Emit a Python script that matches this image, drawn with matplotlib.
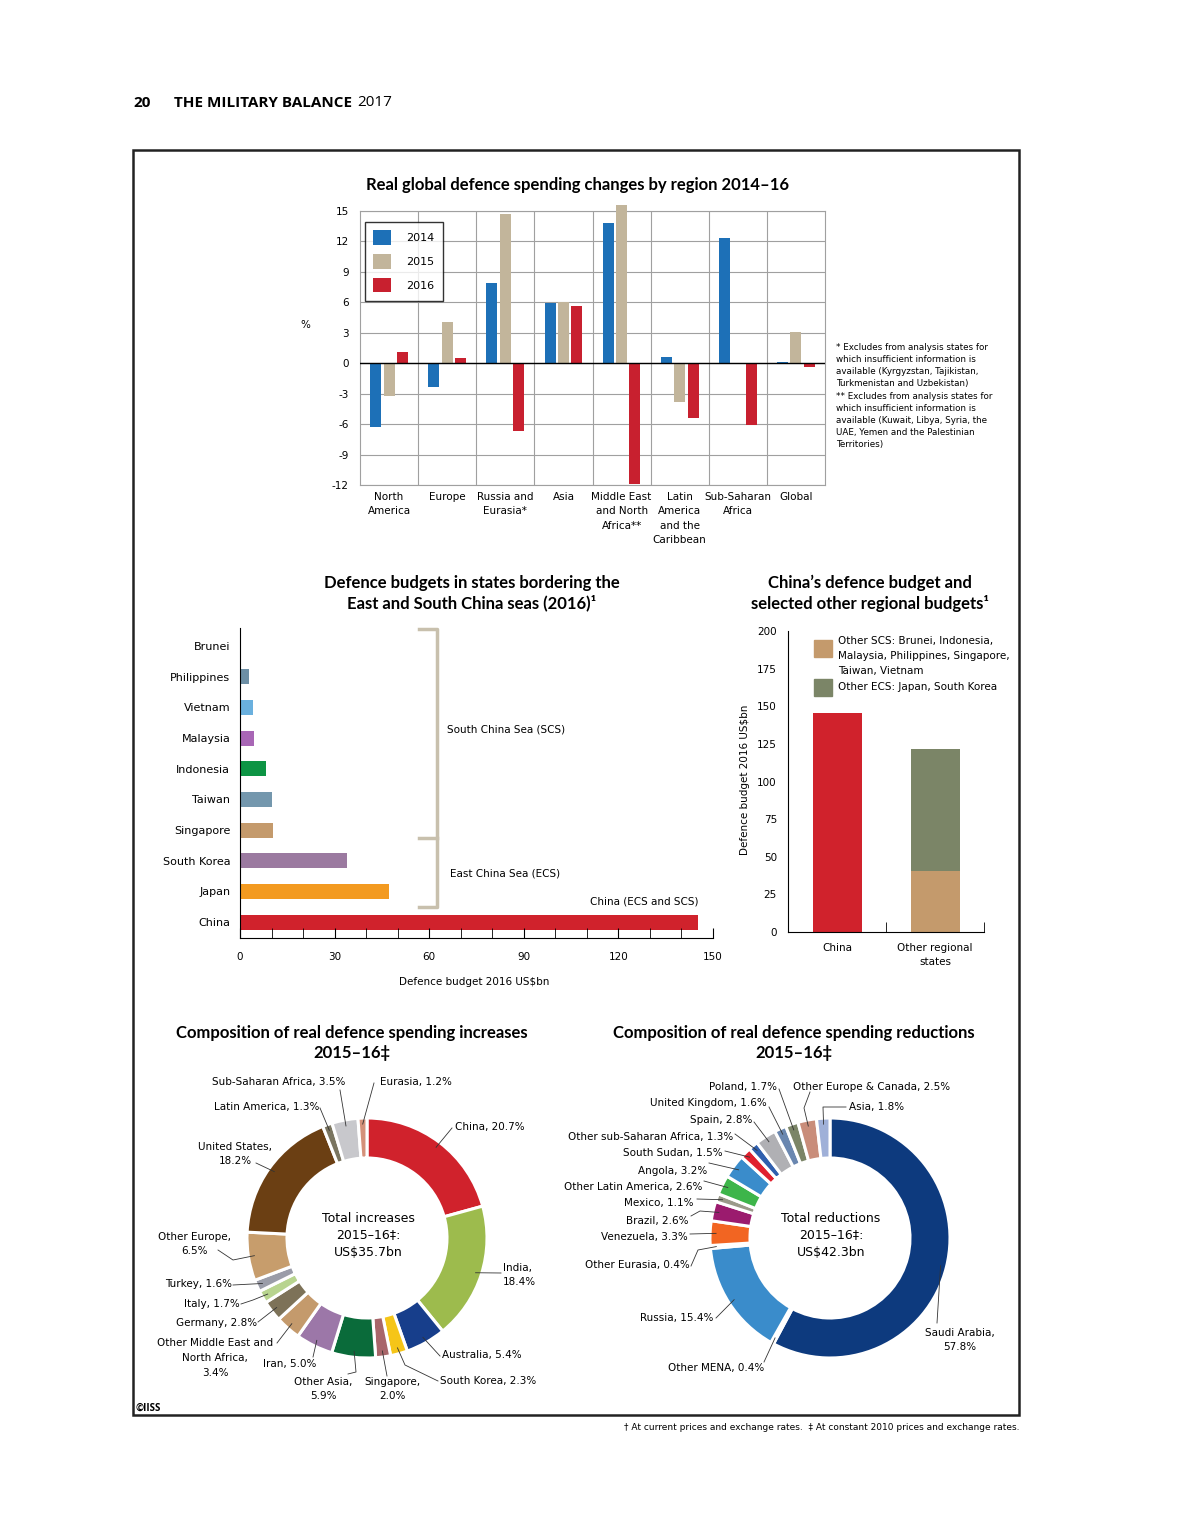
import numpy as np
import matplotlib
matplotlib.use('Agg')
import matplotlib.pyplot as plt
from matplotlib.patches import Rectangle
from matplotlib.lines import Line2D
from matplotlib import font_manager

W, H = 1204, 1540

# --- real global defence spending changes (%)
regions = ['North\nAmerica', 'Europe', 'Russia and\nEurasia*', 'Asia',
           'Middle East\nand North\nAfrica**', 'Latin\nAmerica\nand the\nCaribbean',
           'Sub-Saharan\nAfrica', 'Global']
chg_2014 = [-6.3, -2.3, 7.9, 5.9, 13.8, 0.6, 12.3, 0.1]
chg_2015 = [-3.2, 4.1, 14.7, 6.0, 15.6, -3.8, -0.1, 3.1]
chg_2016 = [1.1, 0.5, -6.7, 5.6, -11.9, -5.4, -6.1, -0.4]

# --- defence budgets 2016 US$bn
countries = ['China', 'Japan', 'South Korea', 'Singapore', 'Taiwan',
             'Indonesia', 'Malaysia', 'Vietnam', 'Philippines', 'Brunei']
budgets = [145.3, 47.4, 33.8, 10.4, 10.1, 8.1, 4.4, 4.0, 2.8, 0.4]
budget_colors = ['#d0222c', '#f39a20', '#9b7aa0', '#c49a6c', '#7497ad',
                 '#0d9444', '#a866b5', '#6ab0de', '#6d8fa5', '#c8c0ad']

# --- composition of increases 2015-16 (%)
inc_labels = ['China, 20.7%', 'India,\n18.4%', 'Australia, 5.4%', 'South Korea, 2.3%',
              'Singapore,\n2.0%', 'Other Asia,\n5.9%', 'Iran, 5.0%',
              'Other Middle East and\nNorth Africa,\n3.4%', 'Germany, 2.8%',
              'Italy, 1.7%', 'Turkey, 1.6%', 'Other Europe,\n6.5%',
              'United States,\n18.2%', 'Latin America, 1.3%',
              'Sub-Saharan Africa, 3.5%', 'Eurasia, 1.2%']
inc_values = [20.7, 18.4, 5.4, 2.3, 2.0, 5.9, 5.0, 3.4, 2.8, 1.7, 1.6, 6.5, 18.2, 1.3, 3.5, 1.2]
inc_colors = ['#d0222c', '#9dbb4d', '#173e8b', '#f5c518', '#a8666a', '#0a6b3a',
              '#9c77a8', '#c49a6c', '#7d7258', '#b8d48f', '#9a9ca8', '#c79d6c',
              '#6b3f13', '#7a7560', '#c8c8cc', '#d4917a']

# --- composition of reductions 2015-16 (%)
red_labels = ['Saudi Arabia,\n57.8%', 'Other MENA, 0.4%', 'Russia, 15.4%',
              'Other Eurasia, 0.4%', 'Venezuela, 3.3%', 'Brazil, 2.6%', 'Mexico, 1.1%',
              'Other Latin America, 2.6%', 'Angola, 3.2%', 'South Sudan, 1.5%',
              'Other sub-Saharan Africa, 1.3%', 'Spain, 2.8%', 'United Kingdom, 1.6%',
              'Poland, 1.7%', 'Other Europe & Canada, 2.5%', 'Asia, 1.8%']
red_values = [57.8, 0.4, 15.4, 0.4, 3.3, 2.6, 1.1, 2.6, 3.2, 1.5, 1.3, 2.8, 1.6, 1.7, 2.5, 1.8]
red_colors = ['#0d3a7e', '#8a5a2b', '#3a8ccb', '#f5c518', '#f26522', '#9b1b6e',
              '#9a9a8a', '#3db54a', '#3a8ccb', '#e0202e', '#2f5fae', '#b0b0b4',
              '#6a87b0', '#7b8567', '#c98d7a', '#9fb0d8']

avail = {f.name for f in font_manager.fontManager.ttflist}
NARROW = 'Liberation Sans Narrow' if 'Liberation Sans Narrow' in avail else 'DejaVu Sans'
BOLD = 'Lato'
plt.rcParams['font.family'] = NARROW
plt.rcParams['axes.unicode_minus'] = False
FS = 9 if NARROW != 'DejaVu Sans' else 7.5

fig = plt.figure(figsize=(W / 100, H / 100), dpi=100)


def box(x0, y0, x1, y1):
    return [x0 / W, 1 - y1 / H, (x1 - x0) / W, (y1 - y0) / H]


def ftext(x, y, s, **kw):
    return fig.text(x / W, 1 - y / H, s, **kw)


def lines_text(x, y, s, step=14.5, **kw):
    # one text per line, centred on y
    rows = s.split('\n')
    y0 = y - step * (len(rows) - 1) / 2
    for k, row in enumerate(rows):
        ftext(x, y0 + k * step, row, va='center', **kw)


def pline(xs, ys, **kw):
    fig.add_artist(Line2D([x / W for x in xs], [1 - y / H for y in ys], **kw))


def title(x, y, s):
    ftext(x, y, s, ha='center', va='center', family=BOLD, fontweight='bold',
          fontsize=12, linespacing=1.3)


# header / frame / footer
ftext(133, 103, '20', family='Open Sans', fontweight='bold', fontsize=11, va='center')
ftext(174, 103, 'THE MILITARY BALANCE', family='Open Sans', fontweight='bold', fontsize=11, va='center')
ftext(357, 103, '2017', family='Open Sans', fontsize=11, va='center')
fig.add_artist(Rectangle((133 / W, 1 - 1415 / H), (1019 - 133) / W, (1415 - 150) / H,
                         transform=fig.transFigure, fill=False, lw=1.8, ec='#222222'))
ftext(135, 1408, '©IISS', family='Open Sans', fontweight='bold', fontsize=7, va='center')
ftext(1019, 1428, '† At current prices and exchange rates.  ‡ At constant 2010 prices and exchange rates.',
      ha='right', va='center', fontsize=6.5)

# ---------------- chart 1
title(578, 185, 'Real global defence spending changes by region 2014–16')
ax1 = fig.add_axes(box(360, 211, 825, 485))
x = np.arange(len(regions))
for off, vals, col, lab in [(-0.23, chg_2014, '#1d70b7', '2014'),
                            (0.0, chg_2015, '#c2b59b', '2015'),
                            (0.23, chg_2016, '#c8202f', '2016')]:
    ax1.bar(x + off, vals, 0.19, color=col, label=lab, clip_on=False, zorder=3)
ax1.set_xlim(-0.5, 7.5)
ax1.set_ylim(-12, 15)
ax1.set_yticks(range(-12, 16, 3))
ax1.set_xticks(x)
ax1.set_xticklabels(regions, fontsize=FS, linespacing=1.55)
ax1.set_xticks(np.arange(0.5, 7.5, 1), minor=True)
ax1.tick_params(which='both', length=0)
ax1.tick_params(axis='y', labelsize=FS, pad=8)
ax1.tick_params(axis='x', pad=5)
ax1.set_axisbelow(True)
ax1.grid(True, which='minor', axis='x', color='#a0a0a0', lw=0.8)
ax1.grid(True, which='major', axis='y', color='#a0a0a0', lw=0.8)
ax1.axhline(0, color='black', lw=1, zorder=4)
for s in ax1.spines.values():
    s.set_color('#a0a0a0')
    s.set_linewidth(0.8)
leg = ax1.legend(loc='upper left', bbox_to_anchor=(0.011, 0.96), frameon=True, fancybox=False,
                 edgecolor='black', fontsize=FS + 0.5, borderpad=0.75, labelspacing=0.85,
                 handlelength=1.62, handleheight=1.62, handletextpad=1.35, borderaxespad=0)
leg.get_frame().set_linewidth(1)
ftext(305, 325, '%', fontsize=FS, ha='center', va='center')
ftext(836, 343, '* Excludes from analysis states for\nwhich insufficient information is\n'
      'available (Kyrgyzstan, Tajikistan,\nTurkmenistan and Uzbekistan)\n'
      '** Excludes from analysis states for\nwhich insufficient information is\n'
      'available (Kuwait, Libya, Syria, the\nUAE, Yemen and the Palestinian\nTerritories)',
      fontsize=6.3, va='top', linespacing=1.45)

# ---------------- chart 2
title(472, 593, 'Defence budgets in states bordering the\nEast and South China seas (2016)¹')
ax2 = fig.add_axes(box(240, 628, 713, 938))
yp = np.arange(len(countries))
ax2.barh(yp, budgets, height=0.49, color=budget_colors)
ax2.set_xlim(0, 150)
ax2.set_ylim(-0.52, 9.59)
ax2.set_yticks(yp)
ax2.set_yticklabels(countries, fontsize=FS + 0.5)
ax2.tick_params(axis='y', length=0, pad=7)
ax2.set_xticks(range(0, 151, 30))
ax2.set_xticks(range(0, 151, 10), minor=True)
ax2.tick_params(axis='x', which='both', direction='in', length=7, pad=10, labelsize=FS)
ax2.spines['top'].set_visible(False)
ax2.spines['right'].set_visible(False)
ftext(474, 982, 'Defence budget 2016 US$bn', fontsize=FS, ha='center', va='center')
bc = '#c8c0ad'
pline([419, 437, 437, 419], [629, 629, 907, 907], color=bc, lw=2.5)
pline([419, 437], [838, 838], color=bc, lw=2.5)
ftext(447, 730, 'South China Sea (SCS)', fontsize=FS, va='center')
ftext(450, 873, 'East China Sea (ECS)', fontsize=FS, va='center')
ftext(698, 901, 'China (ECS and SCS)', fontsize=FS, va='center', ha='right')

# ---------------- chart 3
title(870, 593, 'China’s defence budget and\nselected other regional budgets¹')
china_total = budgets[0]
ecs_total = budgets[1] + budgets[2]
scs_total = sum(budgets[3:])
ax3 = fig.add_axes(box(788, 631, 984, 932))
ax3.bar(0, china_total, 0.5, color='#d0222c')
ax3.bar(1, scs_total, 0.5, color='#c49a6c')
ax3.bar(1, ecs_total, 0.5, bottom=scs_total, color='#7b8567')
ax3.set_xlim(-0.5, 1.5)
ax3.set_ylim(0, 200)
ax3.set_yticks(range(0, 201, 25))
ax3.tick_params(axis='y', length=0, pad=8, labelsize=FS)
ax3.set_xticks([0, 1])
ax3.set_xticklabels(['China', 'Other regional\nstates'], fontsize=FS, linespacing=1.5)
ax3.set_xticks([0.5, 1.5], minor=True)
ax3.tick_params(axis='x', which='major', length=0, pad=8)
ax3.tick_params(axis='x', which='minor', direction='in', length=7)
ax3.spines['top'].set_visible(False)
ax3.spines['right'].set_visible(False)
ftext(745, 780, 'Defence budget 2016 US$bn', fontsize=FS, rotation=90, ha='center', va='center')
fig.add_artist(Rectangle((814 / W, 1 - 657 / H), 18 / W, 17 / H, transform=fig.transFigure, color='#c49a6c'))
fig.add_artist(Rectangle((814 / W, 1 - 696 / H), 18 / W, 17 / H, transform=fig.transFigure, color='#7b8567'))
lines_text(838, 656, 'Other SCS: Brunei, Indonesia,\nMalaysia, Philippines, Singapore,\nTaiwan, Vietnam',
           step=15, fontsize=FS)
ftext(838, 687, 'Other ECS: Japan, South Korea', fontsize=FS, va='center')

# ---------------- donuts
R, RW = 120, 40


def donut(ax_box, center, values, colors, labels, specs, centre_text):
    x0, y0, x1, y1 = ax_box
    ax = fig.add_axes(box(x0, y0, x1, y1))
    cx, cy = center
    ax.pie(values, colors=colors, startangle=90, counterclock=False, radius=R,
           center=(cx, H - cy), wedgeprops=dict(width=RW, edgecolor='white', linewidth=2.2))
    ax.set_xlim(x0, x1)
    ax.set_ylim(H - y1, H - y0)
    ax.set_aspect('equal')
    ax.axis('off')
    cum = np.cumsum([0] + list(values))
    tot = cum[-1]
    for i, lab in enumerate(labels):
        tx, ty, ha, path = specs[i]
        mid = (cum[i] + cum[i + 1]) / 2 / tot * 2 * np.pi
        sx = cx + (R - 6) * np.sin(mid)
        sy = cy - (R - 6) * np.cos(mid)
        xs = [sx] + [p[0] for p in path]
        ys = [sy] + [p[1] for p in path]
        pline(xs, ys, color='#333333', lw=0.6)
        lines_text(tx, ty, lab, fontsize=FS, ha=ha)
    lines_text(cx + 1, cy - 3, centre_text, step=17, fontsize=FS + 1.5, ha='center')


title(352, 1043, 'Composition of real defence spending increases\n2015–16‡')
inc_specs = [
    (455, 1127, 'left', [(452, 1128)]),
    (503, 1275, 'left', [(501, 1273)]),
    (442, 1355, 'left', [(440, 1356)]),
    (440, 1381, 'left', [(405, 1365), (438, 1381)]),
    (392, 1389, 'center', [(387, 1376)]),
    (323, 1389, 'center', [(356, 1372), (348, 1374)]),
    (316, 1364, 'right', [(313, 1357)]),
    (215, 1358, 'center', [(277, 1343)]),
    (257, 1323, 'right', [(258, 1322)]),
    (240, 1304, 'right', [(253, 1300), (241, 1304)]),
    (232, 1284, 'right', [(233, 1285)]),
    (195, 1244, 'center', [(233, 1260), (218, 1250)]),
    (235, 1154, 'center', [(256, 1163)]),
    (319, 1107, 'right', [(320, 1108)]),
    (345, 1082, 'right', [(340, 1090)]),
    (380, 1082, 'left', [(374, 1083)]),
]
donut((133, 1060, 575, 1415), (367, 1238), inc_values, inc_colors, inc_labels, inc_specs,
      'Total increases\n2015–16‡:\nUS$35.7bn')

title(794, 1043, 'Composition of real defence spending reductions\n2015–16‡')
red_specs = [
    (960, 1340, 'center', [(937, 1323)]),
    (764, 1368, 'right', [(764, 1362)]),
    (713, 1318, 'right', [(716, 1318)]),
    (690, 1265, 'right', [(698, 1250), (691, 1266)]),
    (688, 1237, 'right', [(690, 1234)]),
    (689, 1221, 'right', [(700, 1211), (691, 1216)]),
    (694, 1203, 'right', [(697, 1199)]),
    (702, 1187, 'right', [(704, 1181)]),
    (707, 1171, 'right', [(709, 1163)]),
    (723, 1153, 'right', [(725, 1151)]),
    (733, 1137, 'right', [(735, 1134)]),
    (752, 1120, 'right', [(754, 1122)]),
    (767, 1103, 'right', [(769, 1107)]),
    (777, 1087, 'right', [(779, 1089)]),
    (793, 1087, 'left', [(804, 1108), (810, 1092)]),
    (849, 1107, 'left', [(823, 1107), (846, 1107)]),
]
donut((580, 1060, 1015, 1415), (830, 1238), red_values, red_colors, red_labels, red_specs,
      'Total reductions\n2015–16‡:\nUS$42.3bn')

fig.savefig('out.png', dpi=100, facecolor='white')
